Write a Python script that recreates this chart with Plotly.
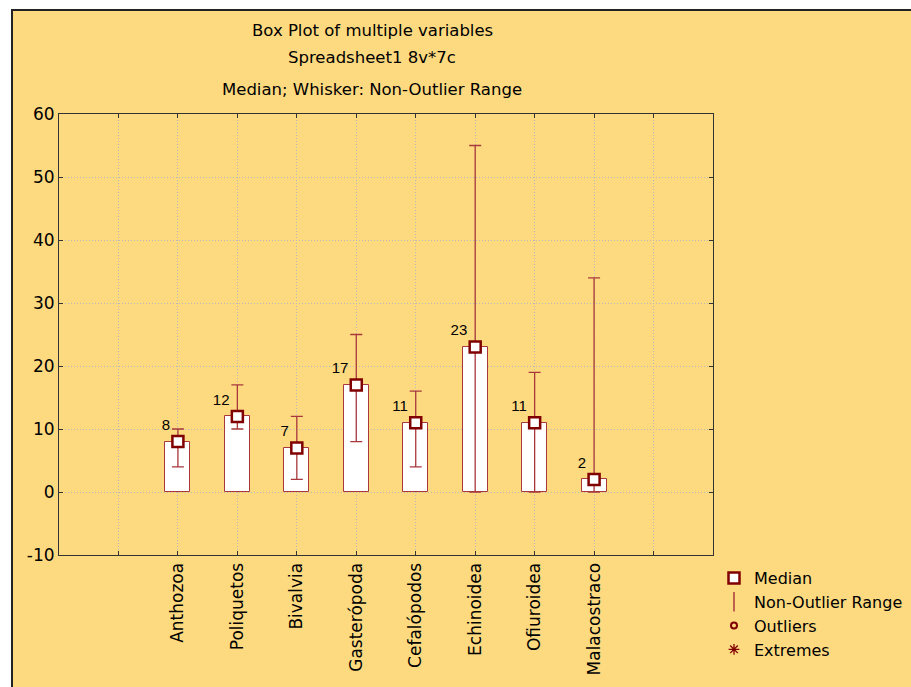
import plotly.graph_objects as go

categories = ["Anthozoa", "Poliquetos", "Bivalvia", "Gasterópoda", "Cefalópodos",
              "Echinoidea", "Ofiuroidea", "Malacostraco"]
medians = [8, 12, 7, 17, 11, 23, 11, 2]
mins = [4, 10, 2, 8, 4, 0, 0, 0]
maxs = [10, 17, 12, 25, 16, 55, 19, 34]
yticks = [-10, 0, 10, 20, 30, 40, 50, 60]

positions = list(range(2, 2 + len(categories)))
FONT = "DejaVu Sans, Liberation Sans, Arial, sans-serif"
LFONT = "Liberation Sans, Arial, sans-serif"
DARK = "#800000"
MID = "#A8383C"

W, H = 911, 687
L, R, T, B = 59, 198, 114, 132
pw, ph = W - L - R, H - T - B


def px(x):
    return (x - L) / pw


def py(y):
    return (H - B - y) / ph


fig = go.Figure()

fig.add_trace(go.Bar(
    x=positions, y=medians, base=0, width=0.42,
    marker=dict(color="white", line=dict(color=MID, width=1)),
    showlegend=False, hoverinfo="skip",
))

fig.add_trace(go.Scatter(
    x=positions, y=medians, mode="markers+text", name="Median",
    text=[str(m) for m in medians], textposition="top left",
    textfont=dict(family=LFONT, size=15, color="black"),
    marker=dict(symbol="square", size=11, color="white", line=dict(color=DARK, width=2.5)),
    error_y=dict(type="data", symmetric=False,
                 array=[mx - m for mx, m in zip(maxs, medians)],
                 arrayminus=[m - mn for m, mn in zip(medians, mins)],
                 color=MID, thickness=1.3, width=6),
))

fig.add_trace(go.Scatter(x=[None], y=[None], mode="markers", name="Non-Outlier Range",
                         marker=dict(symbol="line-ns-open", size=14, color=MID,
                                     line=dict(color=MID, width=1.5))))
fig.add_trace(go.Scatter(x=[None], y=[None], mode="markers", name="Outliers",
                         marker=dict(symbol="circle-open", size=6, color=DARK,
                                     line=dict(color=DARK, width=2))))
fig.add_trace(go.Scatter(x=[None], y=[None], mode="markers", name="Extremes",
                         marker=dict(symbol="asterisk-open", size=9, color=DARK,
                                     line=dict(color=DARK, width=1.3))))

ticktext = [""] + categories + [""]
tickvals = list(range(1, len(categories) + 3))
GRID = "#B8B8B8"

fig.update_layout(
    width=W, height=H,
    margin=dict(l=L, r=R, t=T, b=B, autoexpand=False),
    paper_bgcolor="white", plot_bgcolor="white",
    font=dict(family=FONT, size=16, color="black"),
    bargap=0,
    xaxis=dict(range=[0, len(categories) + 3], tickvals=tickvals, ticktext=ticktext,
               tickangle=-90, showgrid=True, gridcolor=GRID, griddash="1px,2px", gridwidth=1,
               showline=True, linecolor="#333333", linewidth=1, mirror="ticks",
               ticks="inside", ticklen=4, tickcolor="#333333", zeroline=False,
               tickfont=dict(family=FONT, size=17, color="black")),
    yaxis=dict(range=[-10, 60], tickvals=yticks, ticktext=[str(v) for v in yticks],
               showgrid=True, gridcolor=GRID,
               griddash="1px,2px", gridwidth=1, showline=True, linecolor="#333333", linewidth=1,
               mirror="ticks", ticks="inside", ticklen=4, tickcolor="#333333", zeroline=False,
               tickfont=dict(family=FONT, size=17, color="black")),
    legend=dict(x=px(714), y=py(561), xanchor="left", yanchor="top",
                bgcolor="rgba(0,0,0,0)", font=dict(family=FONT, size=16, color="black"),
                tracegroupgap=0, itemsizing="trace"),
    shapes=[dict(type="rect", xref="paper", yref="paper", layer="below",
                 x0=px(12), x1=px(960), y0=py(10), y1=py(740),
                 fillcolor="#FDDA80", line=dict(color="#222222", width=2))],
    annotations=[
        dict(text=t, x=px(372), y=py(yy), xref="paper", yref="paper", yanchor="middle",
             showarrow=False, font=dict(size=16.5))
        for t, yy in [("Box Plot of multiple variables", 30),
                      ("Spreadsheet1 8v*7c", 57),
                      ("Median; Whisker: Non-Outlier Range", 89)]
    ],
)

fig.write_html("out.html", config={"responsive": False, "displayModeBar": False},
               post_script="document.body.style.margin='0px';")
